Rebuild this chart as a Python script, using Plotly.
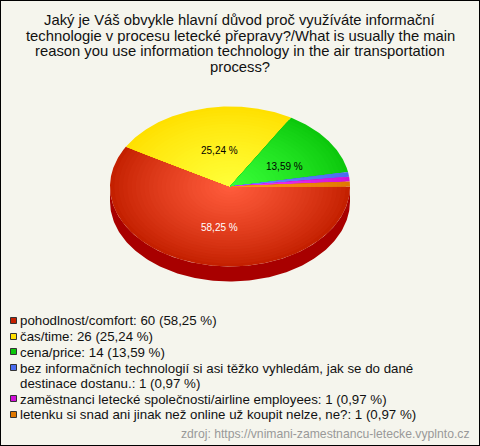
import math
import plotly.graph_objects as go

title_lines = ["Jaký je Váš obvykle hlavní důvod proč využíváte informační",
               "technologie v procesu letecké přepravy?/What is usually the main",
               "reason you use information technology in the air transportation",
               "process?"]
labels = ["pohodlnost/comfort", "čas/time", "cena/price",
          "bez informačních technologií si asi těžko vyhledám, jak se do dané\ndestinace dostanu.",
          "zaměstnanci letecké společnosti/airline employees",
          "letenku si snad ani jinak než online už koupit nelze, ne?"]
values = [60, 26, 14, 1, 1, 1]
percent_text = ["58,25 %", "25,24 %", "13,59 %", "0,97 %", "0,97 %", "0,97 %"]
edge_colors = ["#c42000", "#ffe000", "#0cc80c", "#4a6cf0", "#d010d8", "#e07800"]
centre_colors = ["#ff5c3c", "#ffff38", "#38ff38", "#6a8cff", "#f040f8", "#ff9820"]
legend_colors = ["#c42000", "#ffe000", "#0cc80c", "#4a6cf0", "#d010d8", "#e07800"]
label_colors = ["white", "black", "black"]
SOURCE = "zdroj: https://vnimani-zamestnancu-letecke.vyplnto.cz"

W, H = 480, 446
CX, CY, RX, RY, DEPTH = 230, 186.5, 120, 80, 15
LAYERS = 28
FONT = "Liberation Sans, Arial, sans-serif"


def hex2rgb(c):
    return tuple(int(c[i:i + 2], 16) for i in (1, 3, 5))


def mix(a, b, t):
    ra, rb = hex2rgb(a), hex2rgb(b)
    return "rgb(%d,%d,%d)" % tuple(round(x + (y - x) * t) for x, y in zip(ra, rb))


def pt(deg, scale=1.0, dy=0.0):
    r = math.radians(deg)
    return CX + RX * scale * math.cos(r), CY + RY * scale * math.sin(r) + dy


fig = go.Figure()
total = sum(values)

# side wall of the disc (lower half, only the front is visible)
wall = [pt(a) for a in range(0, 181)] + [pt(a, dy=DEPTH) for a in range(180, -1, -1)]
fig.add_trace(go.Scatter(x=[p[0] for p in wall], y=[p[1] for p in wall], mode="lines",
                         fill="toself", fillcolor="#a80000", line=dict(color="#a80000", width=0),
                         hoverinfo="skip", showlegend=False))

# slices, clockwise from the east, each a stack of shrinking wedges for the radial shading
start = 0.0
mids = []
for val, ec, cc in zip(values, edge_colors, centre_colors):
    sweep = 360.0 * val / total
    mids.append(start + sweep / 2)
    steps = max(2, int(sweep * 2))
    for k in range(LAYERS):
        s = 1 - k / LAYERS
        col = mix(ec, cc, (k / (LAYERS - 1)) ** 0.85)
        pts = [(CX, CY)] + [pt(start + sweep * i / steps, s) for i in range(steps + 1)] + [(CX, CY)]
        fig.add_trace(go.Scatter(x=[p[0] for p in pts], y=[p[1] for p in pts], mode="lines",
                                 fill="toself", fillcolor=col, line=dict(color=col, width=0),
                                 hoverinfo="skip", showlegend=False))
    start += sweep

# percentage labels on the three large slices
for m, txt, col in zip(mids, percent_text, label_colors):
    x, y = pt(m, 0.5)
    fig.add_annotation(x=x + 5, y=y + 2.5, text=txt, showarrow=False, xanchor="center", yanchor="middle",
                       font=dict(family=FONT, size=10, color=col))

# legend
LINE = 15.9
y = 320.7
for lab, val, pct, col in zip(labels, values, percent_text, legend_colors):
    fig.add_trace(go.Scatter(x=[13.5], y=[math.floor(y - 0.5) + 0.5], mode="markers", hoverinfo="skip",
                             showlegend=False,
                             marker=dict(symbol="square", size=6, color=col,
                                         line=dict(color="#333333", width=1))))
    parts = f"{lab}: {val} ({pct})".split("\n")
    for i, part in enumerate(parts):
        fig.add_annotation(x=20, y=y, text=part, showarrow=False, xanchor="left",
                           yanchor="middle", align="left", xshift=-2,
                           font=dict(family=FONT, size=13.3, color="#111111"))
        y += 14.7 if i < len(parts) - 1 else LINE

for i, line in enumerate(title_lines):
    fig.add_annotation(x=240, y=20 + i * 15.6, text=line, showarrow=False, xanchor="center",
                       yanchor="middle", font=dict(family=FONT, size=14.8, color="#111111"))
fig.add_annotation(x=470, y=434, text=SOURCE, showarrow=False, xanchor="right", yanchor="middle",
                   xshift=2, font=dict(family=FONT, size=12.2, color="#999999"))

fig.update_layout(
    width=W, height=H, margin=dict(l=0, r=0, t=0, b=0), autosize=False,
    paper_bgcolor="#f5f5ed", plot_bgcolor="#f5f5ed", showlegend=False,
    xaxis=dict(range=[0, W], visible=False, fixedrange=True),
    yaxis=dict(range=[H, 0], visible=False, fixedrange=True),
    shapes=[dict(type="rect", xref="paper", yref="paper", x0=0, y0=0, x1=1, y1=1,
                 line=dict(color="black", width=2), fillcolor="rgba(0,0,0,0)")],
)
fig.write_html("out.html", config={"displayModeBar": False},
               post_script="document.body.style.margin='0';document.body.style.overflow='hidden';")
